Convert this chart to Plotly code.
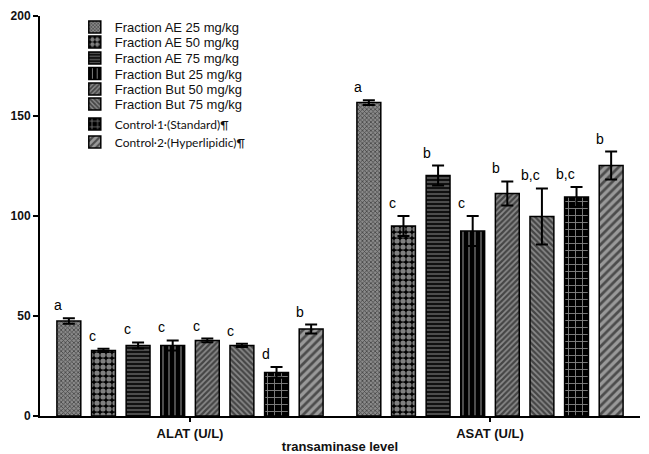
import plotly.graph_objects as go

categories = ["ALAT (U/L)", "ASAT (U/L)"]
series_names = [
    "Fraction AE 25 mg/kg",
    "Fraction AE 50 mg/kg",
    "Fraction AE 75 mg/kg",
    "Fraction But 25 mg/kg",
    "Fraction But 50 mg/kg",
    "Fraction But 75 mg/kg",
    "Control·1·(Standard)¶",
    "Control·2·(Hyperlipidic)¶",
]
alat_values = [47.5, 32.8, 35.3, 35.3, 37.8, 35.3, 21.8, 43.5]
alat_errors = [1.4, 0.8, 1.5, 2.5, 0.9, 0.8, 2.7, 2.2]
asat_values = [156.7, 95.0, 120.2, 92.5, 111.3, 99.8, 109.5, 125.2]
asat_errors = [1.2, 5.0, 5.0, 7.5, 6.0, 14.0, 5.0, 7.0]
alat_letters = ["a", "c", "c", "c", "c", "c", "d", "b"]
asat_letters = ["a", "c", "b", "c", "b", "b,c", "b,c", "b"]

patterns = [
    dict(shape="x", size=3, solidity=0.45, fgcolor="#000", bgcolor="#8a8a8a"),
    dict(shape=".", size=6, solidity=0.6, fgcolor="#fff", bgcolor="#000"),
    dict(shape="-", size=4, solidity=0.25, fgcolor="#fff", bgcolor="#111"),
    dict(shape="|", size=6, solidity=0.2, fgcolor="#fff", bgcolor="#000"),
    dict(shape="/", size=4, solidity=0.55, fgcolor="#000", bgcolor="#8a8a8a"),
    dict(shape="\\", size=4, solidity=0.55, fgcolor="#000", bgcolor="#8a8a8a"),
    dict(shape="+", size=7, solidity=0.25, fgcolor="#fff", bgcolor="#000"),
    dict(shape="/", size=6, solidity=0.45, fgcolor="#000", bgcolor="#999"),
]

BARGAP = 0.077
n = len(series_names)
slot = (1 - BARGAP) / n

fig = go.Figure()
legend_ys = [0.9725, 0.935, 0.895, 0.856, 0.8175, 0.78, 0.73, 0.685]
for i, name in enumerate(series_names):
    lg = "legend" if i == 0 else f"legend{i+1}"
    fig.add_trace(go.Bar(
        name=name,
        x=categories,
        y=[alat_values[i], asat_values[i]],
        error_y=dict(type="data", array=[alat_errors[i], asat_errors[i]],
                     color="black", thickness=2, width=6),
        marker=dict(color=patterns[i]["bgcolor"], pattern=patterns[i],
                    line=dict(color="black", width=1.5)),
        legend=lg, showlegend=True,
    ))

annotations = []
for ci, (vals, errs, letters) in enumerate([(alat_values, alat_errors, alat_letters),
                                             (asat_values, asat_errors, asat_letters)]):
    for i in range(n):
        annotations.append(dict(
            x=ci + (i - (n - 1) / 2) * slot, y=vals[i] + errs[i],
            xref="x", yref="y", text=letters[i], showarrow=False,
            xanchor="center", yanchor="bottom", xshift=-11, yshift=3,
            font=dict(family="Liberation Sans, Arial", size=14, color="black"),
        ))

layout = dict(
    width=649, height=454,
    margin=dict(l=40, r=9, t=16, b=38),
    plot_bgcolor="white", paper_bgcolor="white",
    barmode="group", bargap=BARGAP, bargroupgap=0.31,
    showlegend=True,
    annotations=annotations,
    xaxis=dict(
        showline=True, linecolor="black", linewidth=2,
        ticks="outside", ticklen=4, tickwidth=2, tickcolor="black",
        tickfont=dict(family="Liberation Sans, Arial", size=13, color="#111", weight="bold"),
        title=dict(text="transaminase level",
                   font=dict(family="Liberation Sans, Arial", size=13, color="#111", weight="bold"),
                   standoff=2),
        automargin=False,
        showgrid=False, range=[-0.5, 1.5],
    ),
    yaxis=dict(
        range=[0, 200], tickvals=[0, 50, 100, 150, 200],
        showline=True, linecolor="black", linewidth=2,
        ticks="outside", ticklen=5, tickwidth=2, tickcolor="black",
        tickfont=dict(family="Liberation Sans, Arial", size=12, color="#111", weight="bold"),
        showgrid=False, zeroline=False, automargin=False,
    ),
)
for i in range(n):
    key = "legend" if i == 0 else f"legend{i+1}"
    fam = "Liberation Sans, Arial" if i < 6 else "Lato, Open Sans"
    size = 13 if i < 6 else 12
    layout[key] = dict(
        x=0.058, y=legend_ys[i], xanchor="left", yanchor="middle",
        bgcolor="rgba(0,0,0,0)", borderwidth=0, visible=True,
        font=dict(family=fam, size=size, color="#111"),
    )
fig.update_layout(**layout)
fig.write_html("out.html")
